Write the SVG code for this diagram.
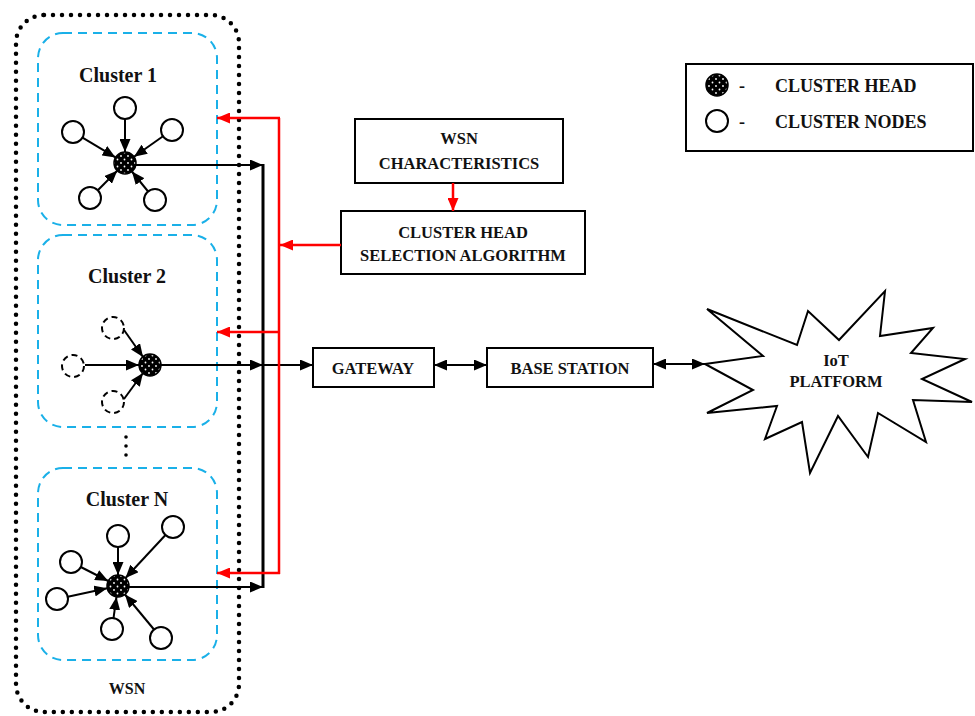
<svg xmlns="http://www.w3.org/2000/svg" width="975" height="716" viewBox="0 0 975 716">
<style>
.t{font-family:"Liberation Serif","Times New Roman",serif;font-weight:bold;fill:#111;}
.bx{fill:#fff;stroke:#000;stroke-width:2;}
.nd{fill:#fff;stroke:#000;stroke-width:2;}
.ndd{fill:#fff;stroke:#000;stroke-width:2;stroke-dasharray:6 4;}
.hd{fill:url(#dots);stroke:#000;stroke-width:1.5;}
.ln{stroke:#000;stroke-width:2;fill:none;}
.rl{stroke:#f00;stroke-width:2.5;fill:none;}
.cl{fill:none;stroke:#1ab0e8;stroke-width:2;stroke-dasharray:9 6;}
</style>
<defs>
<pattern id="dots" patternUnits="userSpaceOnUse" width="7" height="7">
<rect width="7" height="7" fill="#000"/>
<circle cx="2" cy="2" r="0.9" fill="#fff"/>
<circle cx="5.5" cy="5.5" r="0.9" fill="#fff"/>
</pattern>
<marker id="ab" markerUnits="userSpaceOnUse" markerWidth="14" markerHeight="11" refX="13" refY="5.5" orient="auto-start-reverse">
<path d="M0,0 L13,5.5 L0,11 z" fill="#000"/>
</marker>
<marker id="ar" markerUnits="userSpaceOnUse" markerWidth="14" markerHeight="11" refX="13" refY="5.5" orient="auto">
<path d="M0,0 L13,5.5 L0,11 z" fill="#f00"/>
</marker>
</defs>
<rect width="975" height="716" fill="#fff"/>

<g id="wsn">
<rect x="16" y="15" width="223" height="697" rx="28" fill="none" stroke="#000" stroke-width="4.5" stroke-dasharray="0 9" stroke-linecap="round"/>
<text class="t" x="127" y="694" font-size="16" text-anchor="middle">WSN</text>
<circle cx="126" cy="437" r="1.8" fill="#000"/>
<circle cx="126" cy="446" r="1.8" fill="#000"/>
<circle cx="126" cy="455" r="1.8" fill="#000"/>
</g>

<g id="cluster1">
<rect class="cl" x="38" y="33" width="179" height="192" rx="25"/>
<text class="t" x="118" y="82" font-size="20" text-anchor="middle">Cluster 1</text>
<line class="ln" x1="125" y1="119" x2="125" y2="152" marker-end="url(#ab)"/>
<line class="ln" x1="82.5" y1="137.6" x2="115.5" y2="157.4" marker-end="url(#ab)"/>
<line class="ln" x1="163" y1="136.3" x2="134" y2="156.7" marker-end="url(#ab)"/>
<line class="ln" x1="97.8" y1="190.2" x2="117.2" y2="170.8" marker-end="url(#ab)"/>
<line class="ln" x1="148.1" y1="191.5" x2="131.9" y2="171.5" marker-end="url(#ab)"/>
<circle class="nd" cx="125" cy="108" r="11"/>
<circle class="nd" cx="73" cy="132" r="11"/>
<circle class="nd" cx="172" cy="130" r="11"/>
<circle class="nd" cx="90" cy="198" r="11"/>
<circle class="nd" cx="155" cy="200" r="11"/>
<circle class="hd" cx="125" cy="163" r="11"/>
</g>

<g id="cluster2">
<rect class="cl" x="38" y="235" width="179" height="192" rx="25"/>
<text class="t" x="127" y="283" font-size="20" text-anchor="middle">Cluster 2</text>
<line class="ln" x1="124" y1="330" x2="143" y2="357" marker-end="url(#ab)"/>
<line class="ln" x1="85" y1="365" x2="139" y2="365" marker-end="url(#ab)"/>
<line class="ln" x1="124" y1="399" x2="143" y2="373" marker-end="url(#ab)"/>
<circle class="ndd" cx="113" cy="328" r="11"/>
<circle class="ndd" cx="73" cy="366" r="11"/>
<circle class="ndd" cx="113" cy="402" r="11"/>
<circle class="hd" cx="150" cy="365" r="11"/>
</g>

<g id="clusterN">
<rect class="cl" x="38" y="468" width="179" height="192" rx="25"/>
<text class="t" x="127" y="506" font-size="20" text-anchor="middle">Cluster N</text>
<line class="ln" x1="118" y1="547" x2="118" y2="575" marker-end="url(#ab)"/>
<line class="ln" x1="165.5" y1="535" x2="125.5" y2="578" marker-end="url(#ab)"/>
<line class="ln" x1="80.8" y1="567" x2="108.2" y2="581" marker-end="url(#ab)"/>
<line class="ln" x1="67.8" y1="596.7" x2="107.2" y2="588.3" marker-end="url(#ab)"/>
<line class="ln" x1="113.5" y1="618.1" x2="116.5" y2="596.9" marker-end="url(#ab)"/>
<line class="ln" x1="154" y1="629.5" x2="125" y2="594.5" marker-end="url(#ab)"/>
<circle class="nd" cx="118" cy="536" r="11"/>
<circle class="nd" cx="173" cy="527" r="11"/>
<circle class="nd" cx="71" cy="562" r="11"/>
<circle class="nd" cx="57" cy="599" r="11"/>
<circle class="nd" cx="112" cy="629" r="11"/>
<circle class="nd" cx="161" cy="638" r="11"/>
<circle class="hd" cx="118" cy="586" r="11"/>
</g>

<g id="wsn-characteristics">
<rect class="bx" x="355" y="119" width="208" height="64"/>
<text class="t" x="459" y="144" font-size="16.5" text-anchor="middle">WSN</text>
<text class="t" x="459" y="169" font-size="16.5" text-anchor="middle">CHARACTERISTICS</text>
</g>

<g id="ch-selection">
<rect class="bx" x="341" y="211" width="244" height="63"/>
<text class="t" x="463" y="238" font-size="16.5" text-anchor="middle">CLUSTER HEAD</text>
<text class="t" x="463" y="261" font-size="16.5" text-anchor="middle">SELECTION ALGORITHM</text>
</g>

<g id="gateway">
<rect class="bx" x="313" y="348" width="121" height="39"/>
<text class="t" x="373" y="374" font-size="16.5" text-anchor="middle">GATEWAY</text>
</g>

<g id="base-station">
<rect class="bx" x="487" y="348" width="166" height="39"/>
<text class="t" x="570" y="374" font-size="16.5" text-anchor="middle">BASE STATION</text>
</g>

<g id="iot-platform">
<polygon points="705,364 763,356 707,309 797,345 808,311 839,340 885,291 880,336 933,328 911,353 965,359 922,379 972,402 913,400 926,442 878,413 868,457 838,416 810,473 802,422 765,439 777,406 707,413 753,390" fill="#fff" stroke="#000" stroke-width="2" stroke-linejoin="miter"/>
<text class="t" x="836" y="366" font-size="16.5" text-anchor="middle">IoT</text>
<text class="t" x="836" y="387" font-size="16.5" text-anchor="middle">PLATFORM</text>
</g>

<g id="legend">
<rect class="bx" x="686" y="64" width="287" height="87"/>
<circle class="hd" cx="717" cy="85" r="11"/>
<text class="t" x="739" y="92" font-size="18">-</text>
<text class="t" x="775" y="92" font-size="18">CLUSTER HEAD</text>
<circle class="nd" cx="717" cy="121" r="11"/>
<text class="t" x="739" y="128" font-size="18">-</text>
<text class="t" x="775" y="128" font-size="18">CLUSTER NODES</text>
</g>

<g id="connectors">
<line class="ln" x1="136" y1="165" x2="263" y2="165" marker-end="url(#ab)"/>
<line class="ln" x1="161" y1="365" x2="263" y2="365" marker-end="url(#ab)"/>
<line class="ln" x1="263" y1="365" x2="313" y2="365" marker-end="url(#ab)"/>
<line class="ln" x1="129" y1="587" x2="263" y2="587" marker-end="url(#ab)"/>
<line x1="263" y1="164" x2="263" y2="588" stroke="#000" stroke-width="3"/>
<line class="rl" x1="279" y1="118" x2="279" y2="574"/>
<line class="rl" x1="280" y1="118" x2="217" y2="118" marker-end="url(#ar)"/>
<line class="rl" x1="280" y1="332" x2="217" y2="332" marker-end="url(#ar)"/>
<line class="rl" x1="280" y1="573" x2="217" y2="573" marker-end="url(#ar)"/>
<line class="rl" x1="341" y1="245" x2="280" y2="245" marker-end="url(#ar)"/>
<line class="rl" x1="453" y1="183" x2="453" y2="211" marker-end="url(#ar)"/>
<line class="ln" x1="434" y1="365" x2="487" y2="365" marker-start="url(#ab)" marker-end="url(#ab)"/>
<line class="ln" x1="653" y1="364" x2="705" y2="364" marker-start="url(#ab)" marker-end="url(#ab)"/>
</g>
</svg>
